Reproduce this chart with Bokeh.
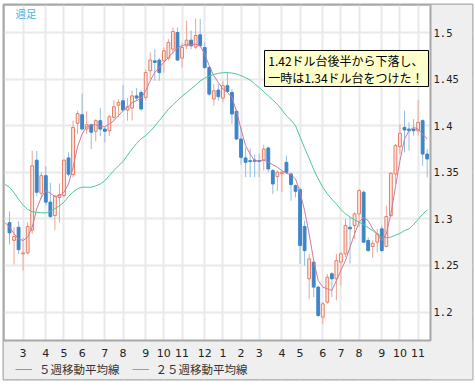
import pandas as pd
from bokeh.plotting import figure
from bokeh.models import (ColumnDataSource, FixedTicker, Label, Legend, LegendItem,
                          Range1d, BoxAnnotation)
from bokeh.core.properties import value
from bokeh.embed import file_html
from bokeh.resources import INLINE

# ---- weekly candles (week index 0..92) ----
opens = [1.296, 1.277, 1.291, 1.2625, 1.2636, 1.288, 1.363, 1.3275, 1.3464, 1.318,
         1.3036, 1.323, 1.325, 1.3654, 1.3475, 1.4025, 1.4118, 1.3964, 1.401, 1.394,
         1.4054, 1.3964, 1.3946, 1.409, 1.422, 1.4268, 1.4168, 1.4189, 1.432, 1.4357,
         1.4304, 1.459, 1.4696, 1.4704, 1.4696, 1.4725, 1.4821, 1.500, 1.4725, 1.4857,
         1.4918, 1.4843, 1.4975, 1.4839, 1.4625, 1.4286, 1.4382, 1.4296, 1.4429, 1.4357,
         1.4154, 1.3857, 1.3654, 1.3625, 1.3632, 1.3625, 1.3632, 1.3761, 1.3518, 1.3454,
         1.3485, 1.3607, 1.3482, 1.3357, 1.3314, 1.2918, 1.2357, 1.2536, 1.2268, 1.1946,
         1.2107, 1.2411, 1.2357, 1.2536, 1.2625, 1.2911, 1.2929, 1.3054, 1.3286, 1.2768,
         1.2704, 1.275, 1.2893, 1.2704, 1.3036, 1.3482, 1.3775, 1.3982, 1.3964, 1.3964,
         1.3946, 1.4054, 1.3696]
highs = [1.308, 1.291, 1.2975, 1.280, 1.2964, 1.373, 1.373, 1.350, 1.3564, 1.3386,
         1.326, 1.338, 1.364, 1.3714, 1.4054, 1.416, 1.4346, 1.4154, 1.402, 1.4071,
         1.419, 1.399, 1.4118, 1.4275, 1.4286, 1.4439, 1.4296, 1.4375, 1.4404, 1.438,
         1.460, 1.4786, 1.4821, 1.4725, 1.4839, 1.4929, 1.5054, 1.5054, 1.489, 1.5125,
         1.502, 1.515, 1.5147, 1.4893, 1.4643, 1.4446, 1.4446, 1.4482, 1.457, 1.4393,
         1.4168, 1.398, 1.3766, 1.3755, 1.369, 1.370, 1.3796, 1.3775, 1.3536, 1.3518,
         1.3518, 1.3679, 1.350, 1.337, 1.334, 1.298, 1.2625, 1.2554, 1.2286, 1.2107,
         1.241, 1.243, 1.2625, 1.2643, 1.300, 1.3018, 1.3071, 1.3321, 1.3304, 1.2804,
         1.2768, 1.2893, 1.2929, 1.3143, 1.3500, 1.3804, 1.4018, 1.4161, 1.4036, 1.4071,
         1.4275, 1.4071, 1.3750]
lows = [1.2725, 1.251, 1.2625, 1.2446, 1.262, 1.284, 1.324, 1.3214, 1.3143, 1.301,
        1.288, 1.296, 1.323, 1.3454, 1.3446, 1.391, 1.3954, 1.391, 1.375, 1.3832,
        1.389, 1.382, 1.389, 1.4054, 1.409, 1.4154, 1.4054, 1.4054, 1.4268, 1.416,
        1.427, 1.45, 1.4482, 1.4482, 1.457, 1.470, 1.4768, 1.4696, 1.4625, 1.4821,
        1.4821, 1.4821, 1.4839, 1.4607, 1.4321, 1.4214, 1.4268, 1.425, 1.4357, 1.4018,
        1.3846, 1.3582, 1.345, 1.3447, 1.3446, 1.3446, 1.3518, 1.3500, 1.3268, 1.330,
        1.3286, 1.3482, 1.3196, 1.323, 1.2518, 1.250, 1.2143, 1.2161, 1.1946, 1.1875,
        1.2089, 1.2161, 1.2125, 1.2286, 1.2589, 1.252, 1.2786, 1.2911, 1.2743, 1.2643,
        1.2582, 1.2643, 1.2643, 1.2696, 1.3018, 1.3375, 1.3696, 1.3714, 1.3732, 1.3893,
        1.3893, 1.3571, 1.3446]
closes = [1.285, 1.281, 1.267, 1.2635, 1.2918, 1.357, 1.3286, 1.3464, 1.318, 1.3025,
          1.324, 1.326, 1.363, 1.348, 1.3982, 1.413, 1.3964, 1.401, 1.393, 1.4054,
          1.3964, 1.394, 1.4096, 1.4204, 1.425, 1.4168, 1.4204, 1.432, 1.4296, 1.418,
          1.457, 1.4704, 1.4679, 1.457, 1.4804, 1.4893, 1.501, 1.4704, 1.4839, 1.4918,
          1.4857, 1.4968, 1.4857, 1.4625, 1.4339, 1.4375, 1.4311, 1.4429, 1.4368, 1.4125,
          1.3857, 1.3661, 1.3607, 1.3615, 1.3618, 1.3615, 1.375, 1.3536, 1.3375, 1.350,
          1.350, 1.350, 1.3368, 1.3296, 1.2714, 1.266, 1.2571, 1.2268, 1.1964, 1.2089,
          1.2375, 1.2357, 1.2554, 1.2625, 1.2929, 1.2893, 1.3054, 1.3304, 1.275, 1.2661,
          1.2739, 1.2839, 1.2661, 1.3025, 1.3489, 1.3786, 1.3918, 1.3954, 1.3946, 1.3946,
          1.4036, 1.3696, 1.3643]

# ---- moving averages (week index -1..92) ----
ma5 = [1.296, 1.291, 1.284, 1.2786, 1.2768, 1.2804, 1.291, 1.3107, 1.3232, 1.3304,
       1.3275, 1.324, 1.325, 1.3286, 1.3375, 1.3554, 1.3775, 1.3911, 1.399, 1.401,
       1.401, 1.399, 1.399, 1.4018, 1.4054, 1.4107, 1.4161, 1.4196, 1.425, 1.4268,
       1.4296, 1.4375, 1.4482, 1.457, 1.4625, 1.4679, 1.4732, 1.4786, 1.4839, 1.4857,
       1.4875, 1.4868, 1.4875, 1.4857, 1.4768, 1.4643, 1.4536, 1.4464, 1.4393, 1.4357,
       1.4304, 1.4154, 1.3964, 1.3786, 1.3696, 1.3625, 1.3618, 1.3632, 1.3607, 1.3582,
       1.3554, 1.3518, 1.3489, 1.3475, 1.3429, 1.3286, 1.3089, 1.2839, 1.2554, 1.2339,
       1.2268, 1.225, 1.2232, 1.2339, 1.2446, 1.2554, 1.2696, 1.2839, 1.2964, 1.3018,
       1.2982, 1.2893, 1.2839, 1.2768, 1.2839, 1.3054, 1.3339, 1.3625, 1.3857, 1.3946,
       1.3982, 1.3964, 1.3911, 1.3857]
ma25 = [1.337, 1.334, 1.328, 1.321, 1.315, 1.310, 1.3078, 1.307, 1.3066, 1.3064,
        1.308, 1.311, 1.314, 1.318, 1.324, 1.329, 1.3325, 1.334, 1.334, 1.334,
        1.3355, 1.3375, 1.341, 1.3465, 1.352, 1.357, 1.3615, 1.3685, 1.375, 1.381,
        1.386, 1.3895, 1.394, 1.3995, 1.4055, 1.4115, 1.4175, 1.4225, 1.427, 1.4315,
        1.4355, 1.4395, 1.4435, 1.448, 1.451, 1.4533, 1.455, 1.4562, 1.4568, 1.457,
        1.4565, 1.4555, 1.4538, 1.4515, 1.449, 1.445, 1.441, 1.4365, 1.432, 1.4275,
        1.423, 1.417, 1.4105, 1.406, 1.40, 1.388, 1.376, 1.365, 1.353, 1.343,
        1.334, 1.327, 1.321, 1.316, 1.31, 1.3054, 1.302, 1.299, 1.2965, 1.294,
        1.2905, 1.2875, 1.2835, 1.2805, 1.2798, 1.2805, 1.2825, 1.2845, 1.2875, 1.2893,
        1.294, 1.2995, 1.305, 1.3096]

month_ticks = [3, 8, 12, 16, 21, 25, 30, 34, 38, 43, 47, 51, 55, 60, 64, 69, 73, 77, 82, 86, 90]
month_labels = ["3", "4", "5", "6", "7", "8", "9", "10", "11", "12", "1",
                "2", "3", "4", "5", "6", "7", "8", "9", "10", "11"]
price_ticks = [1.2, 1.25, 1.3, 1.35, 1.4, 1.45, 1.5]
price_labels = ["1.2", "1.25", "1.3", "1.35", "1.4", "1.45", "1.5"]

title_text = "週足"
note_lines = ["1.42ドル台後半から下落し、", "一時は1.34ドル台をつけた！"]
legend_labels = ["５週移動平均線", "２５週移動平均線"]

# ---- layout constants (data units of the week / price scales) ----
X_START, X_END = -1.3216, 101.98          # whole frame (chart + right label strip)
Y_TOP, Y_BOTTOM = 1.530043, 1.127682      # whole frame (chart + bottom strip)
PLOT_RIGHT = 92.731                       # right edge of the price area
PLOT_BOTTOM = 1.169528                    # bottom edge of the price area
MONTH_LABEL_Y = 1.15665
PRICE_LABEL_X = 93.39
GRAY = "#efefef"
EDGE = "#a8a8a8"

# ---- table for the library ----
df = pd.DataFrame({"open": opens, "high": highs, "low": lows, "close": closes})
df["x"] = range(len(df))
up = df["close"] >= df["open"]
df["top"] = df[["open", "close"]].max(axis=1)
df["bottom"] = df[["open", "close"]].min(axis=1)
df["fill"] = ["#fde8e2" if u else "#3d85c6" for u in up]
df["line"] = ["#e67c64" if u else "#3d85c6" for u in up]
df["wick"] = ["#eda594" if u else "#93bde0" for u in up]
src = ColumnDataSource(df)
ma_x = list(range(-1, len(opens)))

p = figure(frame_width=469, frame_height=375, output_backend="svg", toolbar_location=None,
           title=None, x_range=Range1d(X_START, X_END), y_range=Range1d(Y_BOTTOM, Y_TOP),
           min_border_left=3, min_border_top=4, min_border_right=3, min_border_bottom=7,
           background_fill_color="white", border_fill_color="white",
           outline_line_color=EDGE, outline_line_width=2)
p.xaxis.visible = False
p.yaxis.visible = False
p.xgrid.ticker = FixedTicker(ticks=month_ticks)
p.ygrid.ticker = FixedTicker(ticks=price_ticks)
p.xgrid.grid_line_color = "#e9e9e9"
p.xgrid.grid_line_width = 2
p.ygrid.grid_line_color = "#e9e9e9"
p.ygrid.grid_line_width = 2

# gray strips right of and below the price area
p.add_layout(BoxAnnotation(left=PLOT_RIGHT, fill_color=GRAY, fill_alpha=1,
                           line_color=None, level="underlay"))
p.add_layout(BoxAnnotation(top=PLOT_BOTTOM, fill_color=GRAY, fill_alpha=1,
                           line_color=None, level="underlay"))
# border of the price area
p.add_layout(BoxAnnotation(right=PLOT_RIGHT, bottom=PLOT_BOTTOM, fill_alpha=0,
                           line_color=EDGE, line_width=2, line_alpha=1, level="overlay"))

p.segment(x0="x", y0="high", x1="x", y1="low", line_color="wick", line_width=1, source=src)
p.vbar(x="x", width=0.62, top="top", bottom="bottom", fill_color="fill",
       line_color="line", line_width=1, source=src)
r5 = p.line(ma_x, ma5, line_color="#cc7a9c", line_width=1)
r25 = p.line(ma_x, ma25, line_color="#4cc890", line_width=1)

# tick labels
p.text(x=month_ticks, y=[MONTH_LABEL_Y] * len(month_ticks), text=month_labels,
       text_font=value("DejaVu Sans"), text_font_size=value("11px"),
       text_color="#222222", text_align="center", text_baseline="middle")
p.text(x=[PRICE_LABEL_X] * len(price_ticks), y=price_ticks, text=price_labels,
       text_font=value("DejaVu Sans Mono"), text_font_size=value("10.5px"),
       text_color="#222222", text_align="left", text_baseline="middle")

# legend at the bottom strip
legend = Legend(items=[LegendItem(label=legend_labels[0], renderers=[r5]),
                       LegendItem(label=legend_labels[1], renderers=[r25])],
                orientation="horizontal", location=(12, 2),
                background_fill_alpha=0, border_line_color=None,
                label_text_font="Noto Sans CJK JP", label_text_font_size="11.5px",
                label_text_color="#333333", glyph_width=17, glyph_height=12,
                label_height=12, label_standoff=7, spacing=12, padding=2, margin=0)
p.add_layout(legend)

# title inside the frame
p.add_layout(Label(x=1.3, y=1.5209, text=title_text,
                   text_font="Noto Sans CJK JP", text_font_size="10.5px",
                   text_color="#3fb6ea", text_align="left", text_baseline="middle"))

# note box
p.add_layout(BoxAnnotation(left=56.17, right=92.29, top=1.48069, bottom=1.44206,
                           fill_color="#ffffcc", fill_alpha=1, line_color="#000000",
                           line_width=1, line_alpha=1, level="annotation"))
p.add_layout(Label(x=57.0, y=1.47, text=note_lines[0], text_font="Noto Sans CJK JP",
                   text_font_size="12px", text_color="#000000",
                   text_align="left", text_baseline="middle"))
p.add_layout(Label(x=57.0, y=1.4517, text=note_lines[1], text_font="Noto Sans CJK JP",
                   text_font_size="12px", text_color="#000000",
                   text_align="left", text_baseline="middle"))

open("out.html", "w").write(file_html(p, INLINE))
